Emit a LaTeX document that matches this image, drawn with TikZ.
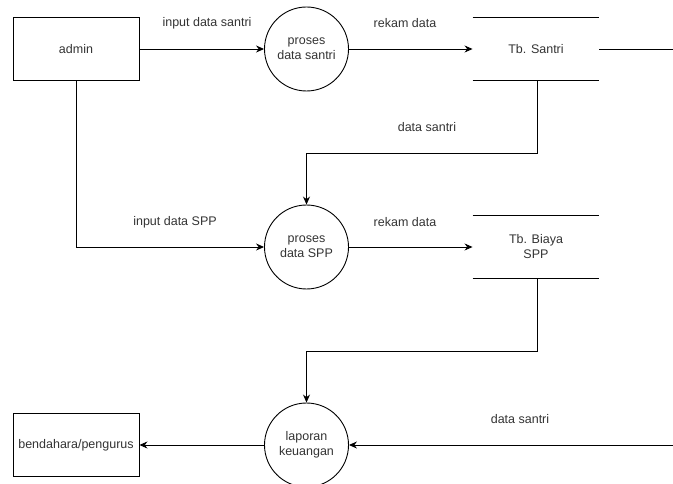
\documentclass[tikz,border=0pt]{standalone}
\usepackage{fontspec}
\setmainfont{Liberation Sans}
\usetikzlibrary{arrows.meta}
\tikzset{
  entity/.style={draw, rectangle, minimum width=126pt, minimum height=63pt, inner sep=0pt},
  process/.style={draw, circle, minimum size=84pt, inner sep=0pt, align=center},
  store/.style={rectangle, minimum width=126pt, minimum height=63pt, inner sep=0pt, align=center},
  flow/.style={anchor=center}
}
\begin{document}
\begin{tikzpicture}[x=1pt,y=-1pt, line width=0.9pt, >={Stealth[length=8pt,width=7pt]},
  every node/.style={font=\fontsize{12.5}{15}\selectfont, text=black!80}]
\useasboundingbox (0,0) rectangle (673,484);
% external entities
\node[entity] (admin) at (76,49) {admin};
\node[entity] (bendahara) at (76,445) {bendahara/pengurus};
% processes
\node[process] (p1) at (306.5,49) {proses\\data santri};
\node[process] (p2) at (306.5,247) {proses\\data SPP};
\node[process] (p3) at (306.5,445) {laporan\\keuangan};
% data stores
\node[store] (s1) at (536,49) {Tb. Santri};
\node[store] (s2) at (536,247) {Tb. Biaya\\SPP};
\draw (s1.north west) -- (s1.north east);
\draw (s1.south west) -- (s1.south east);
\draw (s2.north west) -- (s2.north east);
\draw (s2.south west) -- (s2.south east);
% bends and free ends
\coordinate (b1) at (537,153);
\coordinate (b2) at (537,351);
\coordinate (r1) at (673,49);
\coordinate (r2) at (673,445);
% flows
\draw[->] (admin.east) -- (p1.west);
\draw[->] (p1.east) -- (s1.west);
\draw (s1.east) -- (r1);
\draw[->] (s1.south -| b1) -- (b1) -| (p2.north);
\draw[->] (admin.south) |- (p2.west);
\draw[->] (p2.east) -- (s2.west);
\draw[->] (s2.south -| b2) -- (b2) -| (p3.north);
\draw[->] (p3.west) -- (bendahara.east);
\draw[->] (r2) -- (p3.east);
% labels
\node[flow] (l1) at (207,23) {input data santri};
\node[flow] (l2) at (405,23) {rekam data};
\node[flow] (l3) at (427,127) {data santri};
\node[flow] (l4) at (175,222) {input data SPP};
\node[flow] (l5) at (405,222) {rekam data};
\node[flow] (l6) at (520,419) {data santri};
\end{tikzpicture}
\end{document}
